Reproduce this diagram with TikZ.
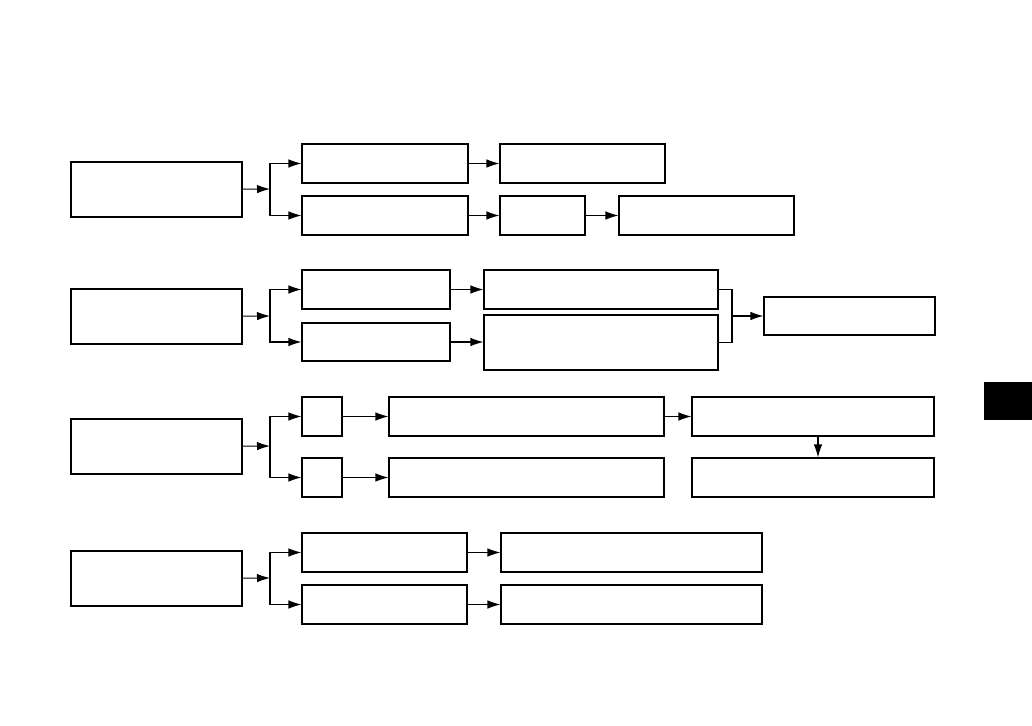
\documentclass[tikz,border=0pt]{standalone}
\usepackage{tikz}
\usetikzlibrary{arrows.meta,fit}
\tikzset{
  box/.style={draw, line width=0.6pt, inner sep=0pt, fill=white},
  arr/.style={-{Latex[length=2.6mm,width=1.7mm]}, line width=0.6pt},
  conn/.style={line width=0.6pt}
}

\begin{document}
\begin{tikzpicture}[x=0.02cm, y=-0.02cm]
\useasboundingbox (0,0) rectangle (1032,726);
% first row
\node[box, fit={(71,162)(242,217)}] (a1) {};
\node[box, fit={(302,144)(468,183)}] (b1a) {};
\node[box, fit={(302,196)(468,235)}] (b1b) {};
\node[box, fit={(500,144)(665,183)}] (c1a) {};
\node[box, fit={(500,196)(585,235)}] (c1b) {};
\node[box, fit={(619,196)(794,235)}] (d1b) {};
\coordinate (j1) at (270,189);
\draw[arr] (a1) -- (j1);
\draw[arr] (j1) |- (b1a);
\draw[arr] (j1) |- (b1b);
\draw[arr] (b1a) -- (c1a);
\draw[arr] (b1b) -- (c1b);
\draw[arr] (c1b) -- (d1b);
% second row
\node[box, fit={(71,289)(242,344)}] (a2) {};
\node[box, fit={(302,270)(450,309)}] (b2a) {};
\node[box, fit={(302,323)(450,361)}] (b2b) {};
\node[box, fit={(484,270)(718,309)}] (c2a) {};
\node[box, fit={(484,315)(718,370)}] (c2b) {};
\node[box, fit={(764,297)(935,335)}] (d2) {};
\coordinate (j2) at (270,316);
\coordinate (m2) at (732,316);
\draw[arr] (a2) -- (j2);
\draw[arr] (j2) |- (b2a);
\draw[arr] (j2) |- (b2b);
\draw[arr] (b2a) -- (b2a -| c2a.west);
\draw[arr] (b2b) -- (b2b -| c2b.west);
\draw[conn] (c2a.east) -| (m2) |- (c2b.east);
\draw[arr] (m2) -- (d2);
% third row
\node[box, fit={(71,419)(242,474)}] (a3) {};
\node[box, fit={(302,397)(342,436)}] (b3a) {};
\node[box, fit={(302,458)(342,497)}] (b3b) {};
\node[box, fit={(389,397)(664,436)}] (c3a) {};
\node[box, fit={(389,458)(664,497)}] (c3b) {};
\node[box, fit={(692,397)(934,436)}] (d3a) {};
\node[box, fit={(692,458)(934,497)}] (d3b) {};
\coordinate (j3) at (270,446);
\draw[arr] (a3) -- (j3);
\draw[arr] (j3) |- (b3a);
\draw[arr] (j3) |- (b3b);
\draw[arr] (b3a) -- (c3a);
\draw[arr] (b3b) -- (c3b);
\draw[arr] (c3a) -- (d3a);
\draw[arr] ([xshift=0.1cm]d3a.south) -- ([xshift=0.1cm]d3b.north);
% fourth row
\node[box, fit={(71,551)(242,606)}] (a4) {};
\node[box, fit={(302,533)(467,572)}] (b4a) {};
\node[box, fit={(302,585)(467,624)}] (b4b) {};
\node[box, fit={(501,533)(762,572)}] (c4a) {};
\node[box, fit={(501,585)(762,624)}] (c4b) {};
\coordinate (j4) at (270,578);
\draw[arr] (a4) -- (j4);
\draw[arr] (j4) |- (b4a);
\draw[arr] (j4) |- (b4b);
\draw[arr] (b4a) -- (c4a);
\draw[arr] (b4b) -- (c4b);
% page tab
\fill (984,382) rectangle (1032,420);
\end{tikzpicture}
\end{document}
